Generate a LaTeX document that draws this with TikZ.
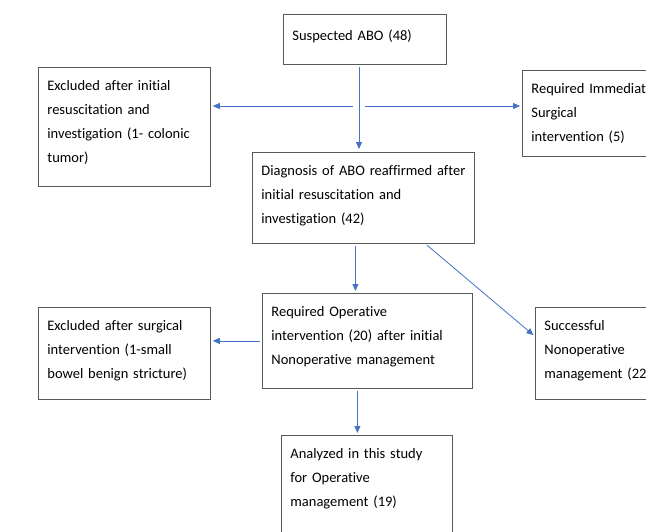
\documentclass[tikz,border=0pt]{standalone}
\usepackage{fontspec}
\setmainfont{Carlito}[Ligatures=NoCommon, WordSpace=0.9]
\usetikzlibrary{arrows.meta}

\definecolor{linkblue}{HTML}{4472C4}
\definecolor{boxgray}{HTML}{595959}

\tikzset{
  box/.style={draw=boxgray, line width=0.8pt, anchor=north west,
    align=left, inner xsep=9pt, inner ysep=6pt, text height=17pt,
    text=black, font=\fontsize{14.5pt}{24pt}\selectfont},
  link/.style={->, draw=linkblue, line width=0.8pt,
    shorten >=2pt, shorten <=2pt}
}

\begin{document}
\begin{tikzpicture}[>={Triangle[length=7pt,width=6pt]}]
  \useasboundingbox[fill=white] (0pt,0pt) rectangle (646pt,-531pt);
  \clip (0pt,0pt) rectangle (646pt,-531pt);

  \node[box, text width=145pt, text height=20pt, text depth=18pt]
  (sus) at (283pt,-14pt) {Suspected ABO (48)};

  \node[box, text width=154pt, text depth=90pt] (ex1) at (38pt,-67pt)
  {Excluded after initial\\resuscitation and\\investigation (1- colonic\\tumor)};
  \node[box, text width=162pt, text depth=57pt] (req) at (522pt,-70pt)
  {Required Immediate\\Surgical\\intervention (5)};

  \node[box, text width=204pt, text depth=62pt] (diag) at (252pt,-152pt)
  {Diagnosis of ABO reaffirmed after\\initial resuscitation and\\investigation (42)};

  \node[box, text width=192pt, text depth=66pt] (oper) at (262pt,-293pt)
  {Required Operative\\intervention (20) after initial\\Nonoperative management};
  \node[box, text width=154pt, text depth=63pt] (ex2) at (38pt,-307pt)
  {Excluded after surgical\\intervention (1-small\\bowel benign stricture)};
  \node[box, text width=162pt, text depth=63pt] (succ) at (535pt,-307pt)
  {Successful\\Nonoperative\\management (22)};

  \node[box, text width=153pt, text depth=100pt] (anal) at (281pt,-435pt)
  {Analyzed in this study\\for Operative\\management (19)};

  % first split
  \coordinate (split) at (359pt,-106pt);
  \draw[link, shorten >=3pt] (sus.south -| split) -- (diag.north -| split);
  \draw[link] ([xshift=-4pt]split) -- (split -| ex1.east);
  \draw[link] ([xshift=4pt]split) -- (split -| req.west);

  % second level
  \draw[link] ([xshift=-8pt]diag.south) -- ([xshift=-8pt]diag.south |- oper.north);
  \draw[link] ([xshift=62pt]diag.south) -- ([yshift=17pt]succ.west);
  \draw[link] (oper.west) -- (oper.west -| ex2.east);
  \draw[link] ([xshift=-10pt]oper.south) -- ([xshift=-10pt]oper.south |- anal.north);
\end{tikzpicture}
\end{document}
